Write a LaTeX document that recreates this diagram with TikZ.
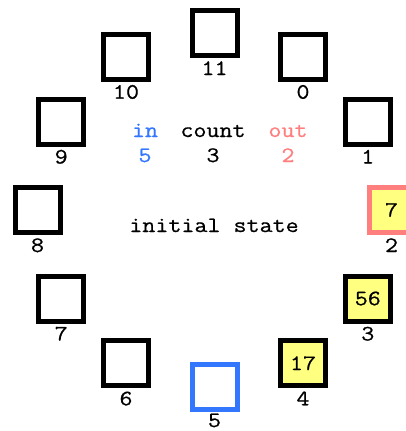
\documentclass[tikz,border=0pt]{standalone}
\usepackage{fontspec}
\newfontfamily\courlike[FakeStretch=1.15,FakeBold=0.7]{Latin Modern Mono}
\definecolor{cellyellow}{HTML}{FFFF80}
\definecolor{outred}{HTML}{FF7F7F}
\definecolor{inblue}{HTML}{3377FF}
\begin{document}
\begin{tikzpicture}[x=1pt,y=-1pt,
  cell/.style={draw=black,line width=5pt,minimum size=45pt,inner sep=0pt,fill=white,
    font=\courlike\fontsize{22}{22}\selectfont},
  lbl/.style={anchor=base,inner sep=0pt,font=\courlike\fontsize{22}{22}\selectfont},
  txt/.style={anchor=base,inner sep=0pt,font=\courlike\fontsize{22}{22}\selectfont}]
\useasboundingbox (0,0) rectangle (406,431);
\foreach \i in {0,...,11}{
  \pgfmathsetmacro{\ang}{60-30*\i}
  \pgfmathsetmacro{\cx}{214.5+177*cos(\ang)}
  \pgfmathsetmacro{\cy}{210-177*sin(\ang)}
  \ifnum\i=5
    \pgfmathsetmacro{\ly}{\cy+40}
  \else
    \pgfmathsetmacro{\ly}{\cy+42}
  \fi
  \ifnum\i=2
    \node[cell,draw=outred,fill=cellyellow] (b\i) at (\cx,\cy) {7};
  \else\ifnum\i=3
    \node[cell,fill=cellyellow] (b\i) at (\cx,\cy) {56};
  \else\ifnum\i=4
    \node[cell,fill=cellyellow] (b\i) at (\cx,\cy) {17};
  \else\ifnum\i=5
    \node[cell,draw=inblue] (b\i) at (\cx,\cy) {};
  \else
    \node[cell] (b\i) at (\cx,\cy) {};
  \fi\fi\fi\fi
  \node[lbl] (l\i) at (\cx,\ly) {\i};
}
\node[txt,text=inblue] (inh) at (145,137) {in};
\node[txt] (counth) at (213,137) {count};
\node[txt,text=outred] (outh) at (288,137) {out};
\node[txt,text=inblue] (inv) at (145,162) {5};
\node[txt] (countv) at (213,162) {3};
\node[txt,text=outred] (outv) at (288,162) {2};
\node[txt] (state) at (214,232) {initial state};
\end{tikzpicture}
\end{document}
